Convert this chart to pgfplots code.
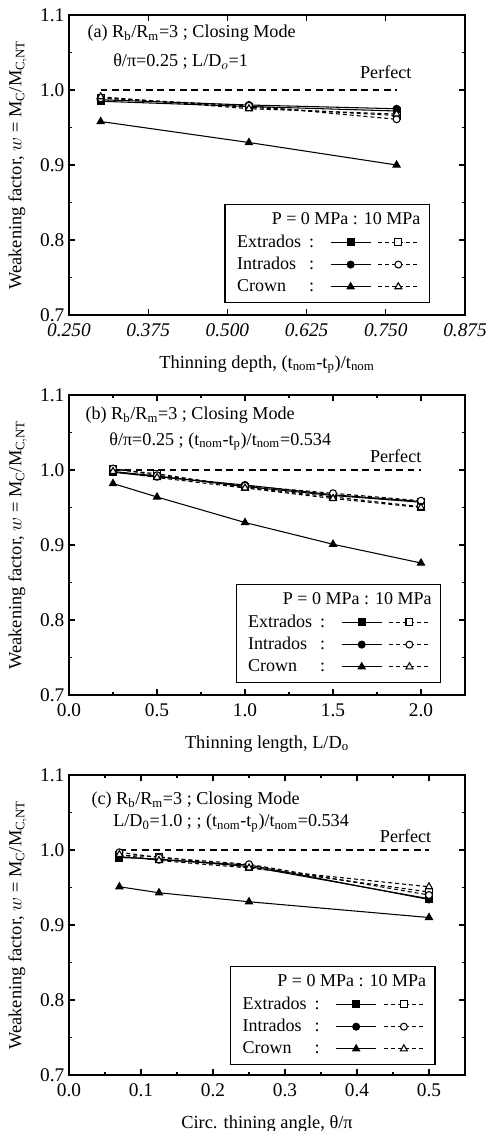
\documentclass[border=0pt]{standalone}
\usepackage{fontspec}
\setmainfont{Liberation Serif}
\usepackage{pgfplots}
\pgfplotsset{compat=1.18}

\tikzset{note/.style={anchor=west, font=\fontsize{13.6}{16}\selectfont}}

% common look of the three panels
\pgfplotsset{
  wf/.style={
    scale only axis, width=297pt, height=225pt,
    ymin=0.7, ymax=1.1, ytick={0.7,0.8,0.9,1.0,1.1}, minor y tick num=1,
    tick align=inside, major tick length=4.5pt, minor tick length=2.5pt,
    axis line style={line width=0.9pt}, every tick/.style={black, line width=0.8pt},
    /pgf/number format/assume math mode=true,
    yticklabel style={/pgf/number format/.cd, fixed, fixed zerofill, precision=1},
    xticklabel style={yshift=-3pt},
    tick label style={font=\fontsize{14.5}{16}\selectfont},
    label style={font=\fontsize{13.8}{16}\selectfont},
    ylabel={Weakening factor, $w$ = M$_\mathrm{C}$/M$_\mathrm{C,NT}$},
    ylabel style={yshift=3pt},
    xlabel style={yshift=-7pt},
    legend columns=2, legend plot pos=right,
    legend style={draw=black, line width=0.9pt, font=\fontsize{13.5}{15}\selectfont,
      cells={anchor=west}, inner xsep=8pt, inner ysep=5pt, row sep=3pt,
      nodes={inner xsep=1pt, inner ysep=1.5pt},
      /tikz/every even column/.append style={column sep=3pt}},
    legend image code/.code={
      \draw[mark repeat=2, mark phase=2] plot coordinates {(0pt,0pt) (15pt,0pt) (30pt,0pt)};},
    p0/.style={black, line width=0.8pt, mark size=2.6pt, mark options={solid, fill=black}},
    p10/.style={black, line width=0.8pt, dash pattern=on 3pt off 2.2pt, mark size=2.6pt,
      mark options={solid, fill=white}},
    perf/.style={black, line width=1pt, dash pattern=on 5pt off 3.5pt, forget plot},
  },
}
% header row: right end of the text lines up with the end of the dashed sample
\newcommand{\lhead}{\addlegendimage{empty legend}\addlegendentry{}
  \addlegendimage{empty legend}\addlegendentry{\makebox[0pt][l]{\hspace{33pt}\makebox[0pt][r]{P = 0 MPa : 10 MPa}}}}
\newcommand{\lab}[1]{\makebox[54pt][l]{#1}:\makebox[11pt]{}}

\begin{document}
\begin{tikzpicture}
\useasboundingbox (-51.75pt,11.25pt) rectangle (313.5pt,-837pt);

% ---------------- (a)
\begin{axis}[wf, at={(0,0)}, anchor=north west,
  xmin=0.25, xmax=0.875, xtick={0.25,0.375,0.5,0.625,0.75,0.875},
  xticklabel style={font=\fontsize{14.5}{16}\selectfont\itshape, /pgf/number format/.cd, fixed, fixed zerofill, precision=3},
  xlabel={Thinning depth, (t$_\mathrm{nom}$-t$_\mathrm{p}$)/t$_\mathrm{nom}$},
  legend style={at={(0.912,0.04)}, anchor=south east}]
\lhead
\addplot[perf] coordinates {(0.3,1.0) (0.767,1.0)};
\addplot[p0, mark=square*] coordinates {(0.3,0.985) (0.534,0.978) (0.767,0.972)};
\addlegendentry{\lab{Extrados}}
\addplot[p10, mark=square*] coordinates {(0.3,0.990) (0.534,0.977) (0.767,0.966)};
\addlegendentry{}
\addplot[p0, mark=*] coordinates {(0.3,0.987) (0.534,0.980) (0.767,0.975)};
\addlegendentry{\lab{Intrados}}
\addplot[p10, mark=*] coordinates {(0.3,0.989) (0.534,0.979) (0.767,0.961)};
\addlegendentry{}
\addplot[p0, mark=triangle*, mark size=3pt] coordinates {(0.3,0.958) (0.534,0.930) (0.767,0.900)};
\addlegendentry{\lab{Crown}}
\addplot[p10, mark=triangle*, mark size=3pt] coordinates {(0.3,0.991) (0.534,0.975) (0.767,0.968)};
\addlegendentry{}
\node[note] at (axis description cs:0.035,0.94) {(a) R$_\mathrm{b}$/R$_\mathrm{m}$=3 ; Closing Mode};
\node[note] at (axis description cs:0.1,0.845) {θ/π=0.25 ; L/D$_o$=1};
\node[note, anchor=center] at (axis description cs:0.80,0.81) {Perfect};
\end{axis}

% ---------------- (b)
\begin{axis}[wf, at={(0,-285pt)}, anchor=north west,
  xmin=0, xmax=2.25, xtick={0,0.5,1.0,1.5,2.0}, minor x tick num=1,
  xticklabel style={/pgf/number format/.cd, fixed, fixed zerofill, precision=1},
  xlabel={Thinning length, L/D$_\mathrm{o}$},
  legend style={at={(0.94,0.04)}, anchor=south east}]
\lhead
\addplot[perf] coordinates {(0.25,1.0) (2.0,1.0)};
\addplot[p0, mark=square*] coordinates {(0.25,0.998) (0.5,0.992) (1.0,0.978) (1.5,0.966) (2.0,0.957)};
\addlegendentry{\lab{Extrados}}
\addplot[p10, mark=square*] coordinates {(0.25,1.001) (0.5,0.995) (1.0,0.977) (1.5,0.964) (2.0,0.951)};
\addlegendentry{}
\addplot[p0, mark=*] coordinates {(0.25,0.997) (0.5,0.991) (1.0,0.980) (1.5,0.967) (2.0,0.958)};
\addlegendentry{\lab{Intrados}}
\addplot[p10, mark=*] coordinates {(0.25,1.002) (0.5,0.993) (1.0,0.979) (1.5,0.969) (2.0,0.959)};
\addlegendentry{}
\addplot[p0, mark=triangle*, mark size=3pt] coordinates {(0.25,0.982) (0.5,0.964) (1.0,0.930) (1.5,0.901) (2.0,0.876)};
\addlegendentry{\lab{Crown}}
\addplot[p10, mark=triangle*, mark size=3pt] coordinates {(0.25,0.998) (0.5,0.990) (1.0,0.976) (1.5,0.962) (2.0,0.950)};
\addlegendentry{}
\node[note] at (axis description cs:0.03,0.934) {(b) R$_\mathrm{b}$/R$_\mathrm{m}$=3 ; Closing Mode};
\node[note] at (axis description cs:0.09,0.845) {θ/π=0.25 ; (t$_\mathrm{nom}$-t$_\mathrm{p}$)/t$_\mathrm{nom}$=0.534};
\node[note, anchor=center] at (axis description cs:0.825,0.795) {Perfect};
\end{axis}

% ---------------- (c)
\begin{axis}[wf, at={(0,-570pt)}, anchor=north west,
  xmin=0, xmax=0.55, xtick={0,0.1,0.2,0.3,0.4,0.5}, minor x tick num=1,
  xticklabel style={/pgf/number format/.cd, fixed, fixed zerofill, precision=1},
  xlabel={Circ. thining angle, θ/π},
  legend style={at={(0.926,0.033)}, anchor=south east}]
\lhead
\addplot[perf] coordinates {(0.07,1.0) (0.5,1.0)};
\addplot[p0, mark=square*] coordinates {(0.07,0.990) (0.125,0.988) (0.25,0.978) (0.5,0.935)};
\addlegendentry{\lab{Extrados}}
\addplot[p10, mark=square*] coordinates {(0.07,0.993) (0.125,0.991) (0.25,0.977) (0.5,0.944)};
\addlegendentry{}
\addplot[p0, mark=*] coordinates {(0.07,0.991) (0.125,0.987) (0.25,0.980) (0.5,0.934)};
\addlegendentry{\lab{Intrados}}
\addplot[p10, mark=*] coordinates {(0.07,0.997) (0.125,0.990) (0.25,0.981) (0.5,0.940)};
\addlegendentry{}
\addplot[p0, mark=triangle*, mark size=3pt] coordinates {(0.07,0.951) (0.125,0.943) (0.25,0.931) (0.5,0.910)};
\addlegendentry{\lab{Crown}}
\addplot[p10, mark=triangle*, mark size=3pt] coordinates {(0.07,0.994) (0.125,0.986) (0.25,0.976) (0.5,0.951)};
\addlegendentry{}
\node[note] at (axis description cs:0.045,0.916) {(c) R$_\mathrm{b}$/R$_\mathrm{m}$=3 ; Closing Mode};
\node[note] at (axis description cs:0.1,0.84) {L/D$_\mathrm{0}$=1.0 ; ; (t$_\mathrm{nom}$-t$_\mathrm{p}$)/t$_\mathrm{nom}$=0.534};
\node[note, anchor=center] at (axis description cs:0.85,0.795) {Perfect};
\end{axis}
\end{tikzpicture}
\end{document}
